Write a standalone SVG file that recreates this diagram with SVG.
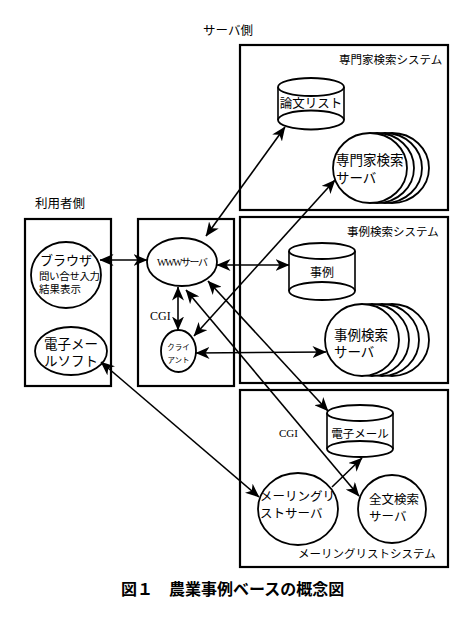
<svg xmlns="http://www.w3.org/2000/svg" width="468" height="624" viewBox="0 0 468 624">
<style>
.box{fill:none;stroke:#000;stroke-width:2.2}
.sh{fill:#fff;stroke:#000;stroke-width:1.8}
.ln{fill:none;stroke:#000;stroke-width:1.6}
.t{font-family:"Liberation Serif","Noto Sans CJK JP",serif;fill:#000}
.cap{font-family:"Noto Sans CJK JP","Liberation Sans",sans-serif;font-weight:bold;fill:#000}
</style>
<defs>
<marker id="ah" viewBox="0 0 14 12" refX="13.5" refY="6" markerWidth="14" markerHeight="12" markerUnits="userSpaceOnUse" orient="auto-start-reverse">
<path d="M0,0 L14,6 L0,12 L4,6 Z" fill="#000"/>
</marker>
</defs>
<rect width="468" height="624" fill="#fff"/>

<text class="t" x="203" y="35" font-size="12.5">サーバ側</text>
<text class="t" x="35" y="208" font-size="12.5">利用者側</text>

<g id="expert-system">
<rect class="box" x="240" y="45" width="208" height="165"/>
<text class="t" x="339" y="64" font-size="11.5">専門家検索システム</text>
</g>
<g id="case-system">
<rect class="box" x="240" y="217" width="208" height="166"/>
<text class="t" x="347" y="236" font-size="11.5">事例検索システム</text>
</g>
<g id="ml-system">
<rect class="box" x="240" y="390" width="208" height="177"/>
<text class="t" x="298" y="558" font-size="11.5">メーリングリストシステム</text>
</g>
<g id="user-side">
<rect class="box" x="25" y="219" width="86" height="167"/>
</g>
<g id="www-side">
<rect class="box" x="138" y="219" width="96" height="167"/>
</g>

<g id="ronbun-list">
<ellipse class="sh" cx="311" cy="120" rx="33" ry="9.5"/>
<path class="ln" d="M278,87 V120 M344,87 V120" stroke-width="1.8"/>
<ellipse class="sh" cx="311" cy="87" rx="33" ry="9"/>
<text class="t" x="311" y="108" font-size="12.5" text-anchor="middle">論文リスト</text>
</g>

<g id="expert-server">
<ellipse class="sh" cx="392" cy="168" rx="37" ry="35"/>
<ellipse class="sh" cx="385" cy="168" rx="37" ry="35"/>
<ellipse class="sh" cx="377" cy="168" rx="37" ry="35"/>
<ellipse class="sh" cx="370" cy="168" rx="37" ry="35"/>
<text class="t" x="336" y="165" font-size="13.5">専門家検索</text>
<text class="t" x="336" y="183" font-size="13.5">サーバ</text>
</g>

<g id="jirei">
<ellipse class="sh" cx="322" cy="291" rx="33" ry="9"/>
<path class="ln" d="M289,251 V291 M355,251 V291" stroke-width="1.8"/>
<ellipse class="sh" cx="322" cy="251" rx="33" ry="8"/>
<text class="t" x="322" y="277" font-size="12" text-anchor="middle">事例</text>
</g>

<g id="case-server">
<ellipse class="sh" cx="392" cy="340" rx="37" ry="36"/>
<ellipse class="sh" cx="382" cy="340" rx="37" ry="36"/>
<ellipse class="sh" cx="372" cy="340" rx="37" ry="36"/>
<ellipse class="sh" cx="362" cy="340" rx="37" ry="36"/>
<text class="t" x="334" y="340" font-size="13.5">事例検索</text>
<text class="t" x="334" y="357" font-size="13.5">サーバ</text>
</g>

<g id="denshi-mail">
<ellipse class="sh" cx="360" cy="449" rx="33" ry="8"/>
<path class="ln" d="M327,413 V449 M393,413 V449" stroke-width="1.8"/>
<ellipse class="sh" cx="360" cy="413" rx="33" ry="8"/>
<text class="t" x="360" y="438" font-size="11.5" text-anchor="middle">電子メール</text>
</g>

<g id="ml-server">
<ellipse class="sh" cx="298" cy="509" rx="40" ry="36"/>
<text class="t" x="260" y="501" font-size="12.5">メーリングリ</text>
<text class="t" x="260" y="518" font-size="12.5">ストサーバ</text>
</g>

<g id="fulltext-server">
<ellipse class="sh" cx="392" cy="509" rx="34" ry="34"/>
<text class="t" x="369" y="504" font-size="12.5">全文検索</text>
<text class="t" x="369" y="521" font-size="12.5">サーバ</text>
</g>

<g id="browser">
<ellipse class="sh" cx="66" cy="275" rx="35" ry="33"/>
<text class="t" x="40" y="265" font-size="13">ブラウザ</text>
<text class="t" x="39" y="280" font-size="10.5" textLength="61">問い合せ入力</text>
<text class="t" x="39" y="293" font-size="10.5">結果表示</text>
</g>

<g id="mail-soft">
<ellipse class="sh" cx="71" cy="351" rx="36" ry="24"/>
<text class="t" x="44" y="349" font-size="13.5">電子メー</text>
<text class="t" x="44" y="366" font-size="13.5">ルソフト</text>
</g>

<g id="www-server">
<ellipse class="sh" cx="182" cy="262" rx="35" ry="24"/>
<text class="t" x="157" y="266" font-size="10" textLength="51">WWWサーバ</text>
</g>

<g id="client">
<ellipse class="sh" cx="178.5" cy="351" rx="17.5" ry="21"/>
<text class="t" x="178.5" y="350" font-size="7.5" text-anchor="middle">クライ</text>
<text class="t" x="178.5" y="363" font-size="7.5" text-anchor="middle">アント</text>
</g>

<text class="t" x="150" y="320" font-size="12">CGI</text>
<text class="t" x="279" y="437" font-size="11">CGI</text>

<g id="connectors" class="ln">
<line x1="100" y1="260" x2="147" y2="260" marker-start="url(#ah)" marker-end="url(#ah)"/>
<line x1="206" y1="236" x2="285" y2="127" marker-start="url(#ah)" marker-end="url(#ah)"/>
<line x1="217" y1="265" x2="289" y2="265" marker-start="url(#ah)" marker-end="url(#ah)"/>
<line x1="178" y1="287" x2="178" y2="330" marker-start="url(#ah)" marker-end="url(#ah)"/>
<line x1="194" y1="336" x2="335" y2="180" marker-start="url(#ah)" marker-end="url(#ah)"/>
<line x1="196" y1="353" x2="326" y2="352" marker-start="url(#ah)" marker-end="url(#ah)"/>
<line x1="208" y1="281" x2="328" y2="411" marker-start="url(#ah)" marker-end="url(#ah)"/>
<line x1="186" y1="290" x2="359" y2="496" marker-start="url(#ah)" marker-end="url(#ah)"/>
<line x1="101" y1="362" x2="259" y2="497" marker-start="url(#ah)" marker-end="url(#ah)"/>
<line x1="332" y1="487" x2="362" y2="458" marker-end="url(#ah)"/>
</g>

<text class="cap" x="121" y="595" font-size="16">図１　農業事例ベースの概念図</text>
</svg>
